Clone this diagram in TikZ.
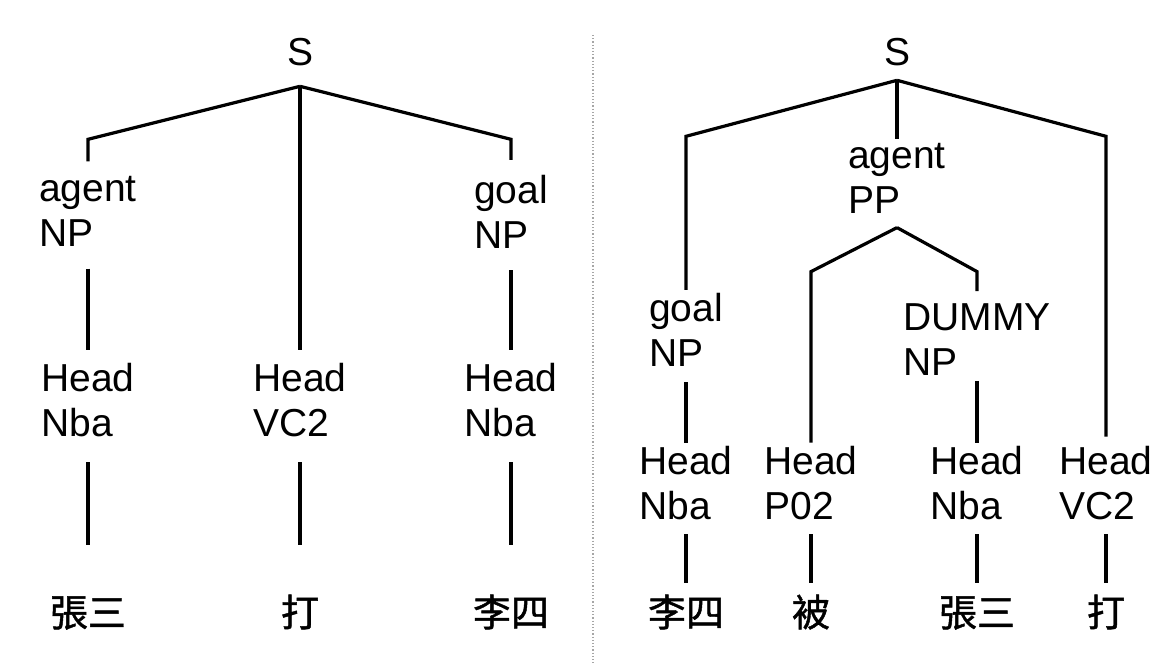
\documentclass[tikz,border=0pt]{standalone}
\usepackage{fontspec}
\setmainfont{Liberation Sans}
\newfontfamily\cjkfont[FakeBold=1.2]{Noto Sans CJK TC}
\usetikzlibrary{positioning}
\tikzset{
  treelabel/.style={align=left, inner sep=0pt, outer sep=0pt, font=\fontsize{19.5}{22.5}\selectfont},
  treeword/.style={inner sep=0pt, outer sep=0pt, text height=16pt, text depth=2pt, font=\cjkfont\fontsize{19}{22}\selectfont},
  treeedge/.style={line width=1.6pt, line join=miter},
  divider/.style={gray!70, densely dotted, line width=0.6pt}
}

\begin{document}
\begin{tikzpicture}[x=0.5pt, y=-0.5pt]
\useasboundingbox (0,0) rectangle (1170,663);
% left tree
\node[treelabel] (sLeft) at (300,52.5) {S};
\node[treelabel] (agentLeft) at (88,211.5) {agent\\NP};
\node[treelabel] (goalLeft) at (511,211.5) {goal\\NP};
\node[treelabel] (headLeftA) at (88,400.5) {Head\\Nba};
\node[treelabel] (headLeftB) at (300,400.5) {Head\\VC2};
\node[treelabel] (headLeftC) at (511,400.5) {Head\\Nba};
\node[treeword] (wordLeftA) at (88,612.5) {張三};
\node[treeword] (wordLeftB) at (300,612.5) {打};
\node[treeword] (wordLeftC) at (511,612.5) {李四};
\coordinate[below=10pt of sLeft] (apexLeft);
\coordinate[below=26.5pt of apexLeft] (barLeft);
\draw[treeedge] (apexLeft) -- (barLeft -| agentLeft) -- ([yshift=7.5pt]agentLeft.north);
\draw[treeedge] (apexLeft) -- (barLeft -| goalLeft) -- ([yshift=7.5pt]goalLeft.north);
\draw[treeedge] (apexLeft) -- ([yshift=7pt]headLeftB.north);
\draw[treeedge, shorten <=11pt, shorten >=7pt] (agentLeft) -- (headLeftA);
\draw[treeedge, shorten <=11pt, shorten >=7pt] (goalLeft) -- (headLeftC);
\foreach \h/\w in {headLeftA/wordLeftA, headLeftB/wordLeftB, headLeftC/wordLeftC}
  \draw[treeedge, shorten <=12.5pt, shorten >=24.75pt] (\h) -- (\w);
% divider
\coordinate (divTop) at (593,35);
\coordinate (divBottom) at (593,663);
\draw[divider] (divTop) -- (divBottom);
% right tree
\node[treelabel] (sRight) at (897,52.5) {S};
\node[treelabel] (agentRight) at (897,178.5) {agent\\PP};
\node[treelabel] (goalRight) at (686,329.5) {goal\\NP};
\node[treelabel] (dummyRight) at (977,340) {DUMMY\\NP};
\node[treelabel] (headRightA) at (686,483.5) {Head\\Nba};
\node[treelabel] (headRightB) at (811,483.5) {Head\\P02};
\node[treelabel] (headRightC) at (977,483.5) {Head\\Nba};
\node[treelabel] (headRightD) at (1106,483.5) {Head\\VC2};
\node[treeword] (wordRightA) at (686,612.5) {李四};
\node[treeword] (wordRightB) at (811,612.5) {被};
\node[treeword] (wordRightC) at (977,612.5) {張三};
\node[treeword] (wordRightD) at (1106,612.5) {打};
\coordinate[below=7pt of sRight] (apexRight);
\coordinate[below=28pt of apexRight] (barRight);
\coordinate[below=7pt of agentRight] (apexPP);
\coordinate[below=22pt of apexPP] (barPP);
\draw[treeedge] (apexRight) -- (barRight -| goalRight) -- ([yshift=1.5pt]goalRight.north);
\draw[treeedge] (apexRight) -- ([yshift=2pt]agentRight.north);
\draw[treeedge] (apexRight) -- (barRight -| headRightD) -- ([yshift=5pt]headRightD.north);
\draw[treeedge] (apexPP) -- (barPP -| headRightB) -- ([yshift=2pt]headRightB.north);
\draw[treeedge] (apexPP) -- (barPP -| dummyRight) -- ([yshift=6.5pt]dummyRight.north);
\draw[treeedge, shorten <=8pt, shorten >=2pt] (goalRight) -- (headRightA);
\draw[treeedge, shorten <=2.5pt, shorten >=2pt] (dummyRight) -- (headRightC);
\foreach \h/\w in {headRightA/wordRightA, headRightB/wordRightB, headRightC/wordRightC, headRightD/wordRightD}
  \draw[treeedge, shorten <=7pt, shorten >=5.75pt] (\h) -- (\w);
\end{tikzpicture}
\end{document}
